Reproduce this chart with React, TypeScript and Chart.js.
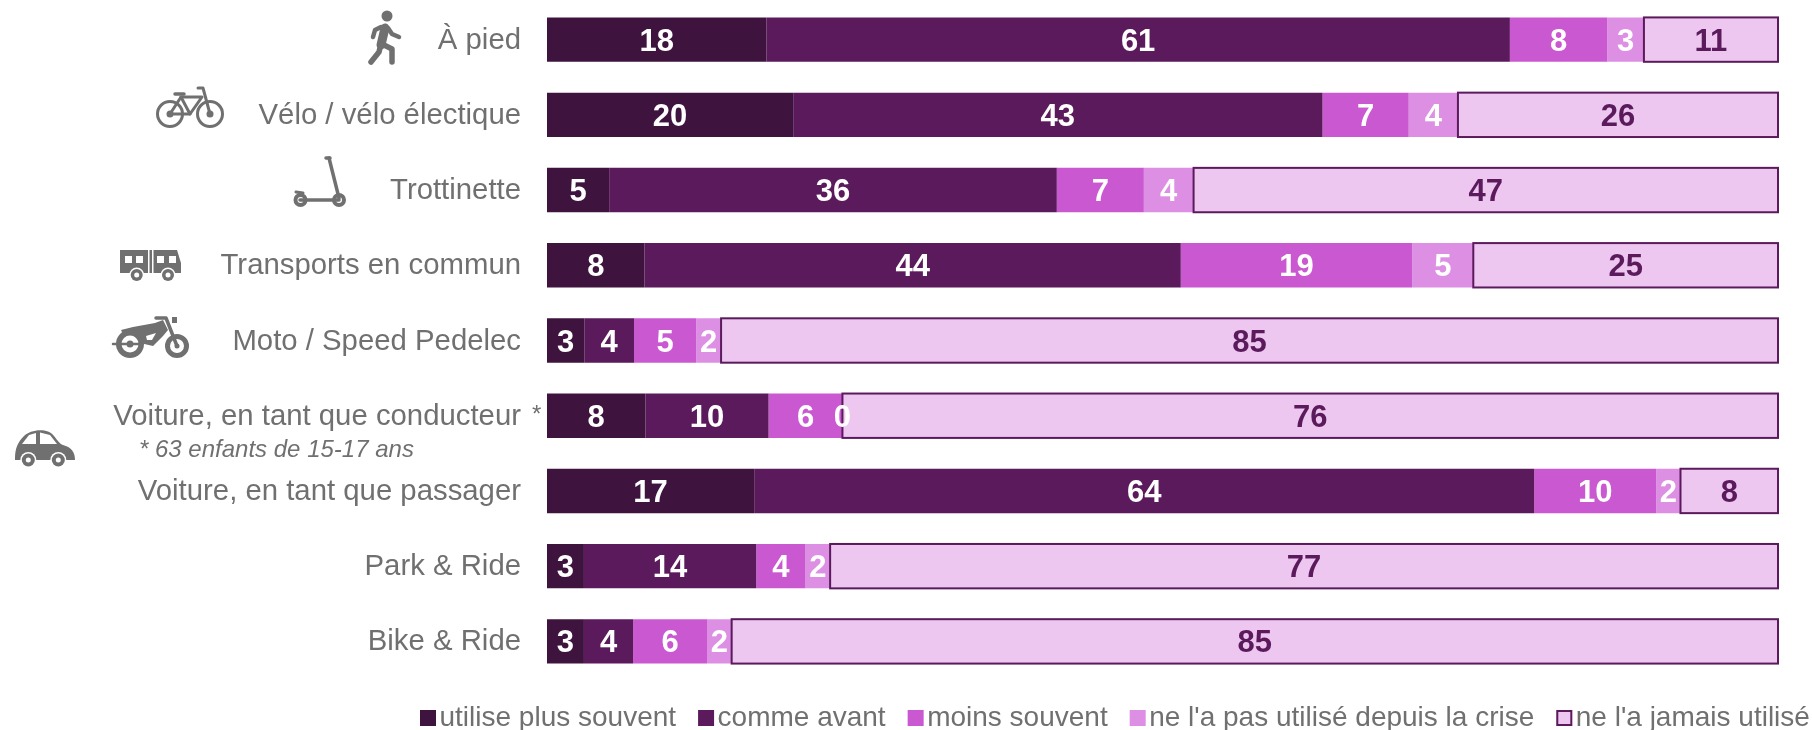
import React, { useEffect, useRef } from "react";
import { Chart, registerables } from "chart.js";

Chart.register(...registerables);

const categories = [
  "À pied",
  "Vélo / vélo électique",
  "Trottinette",
  "Transports en commun",
  "Moto / Speed Pedelec",
  "Voiture, en tant que conducteur",
  "Voiture, en tant que passager",
  "Park & Ride",
  "Bike & Ride",
];
const plusSouvent = [18, 20, 5, 8, 3, 8, 17, 3, 3];
const commeAvant = [61, 43, 36, 44, 4, 10, 64, 14, 4];
const moinsSouvent = [8, 7, 7, 19, 5, 6, 10, 4, 6];
const pasUtilise = [3, 4, 4, 5, 2, 0, 2, 2, 2];
const jamaisUtilise = [11, 26, 47, 25, 85, 76, 8, 77, 85];

const seriesNames = [
  "utilise plus souvent",
  "comme avant",
  "moins souvent",
  "ne l'a pas utilisé depuis la crise",
  "ne l'a jamais utilisé",
];
const seriesValues = [plusSouvent, commeAvant, moinsSouvent, pasUtilise, jamaisUtilise];
const seriesColors = ["#3e143f", "#5b1a5c", "#ca58d1", "#dd8fe3", "#edc7f0"];

const GREY = "#707070";
const FAMILY = '"Liberation Sans", Arial, sans-serif';

const totals = categories.map((_, i) => seriesValues.reduce((s, v) => s + v[i], 0));

function line(ctx: CanvasRenderingContext2D, pts: number[][], w: number) {
  ctx.lineWidth = w;
  ctx.beginPath();
  pts.forEach((p, i) => (i ? ctx.lineTo(p[0], p[1]) : ctx.moveTo(p[0], p[1])));
  ctx.stroke();
}
function disc(ctx: CanvasRenderingContext2D, x: number, y: number, r: number, color = GREY) {
  ctx.fillStyle = color;
  ctx.beginPath();
  ctx.arc(x, y, r, 0, Math.PI * 2);
  ctx.fill();
}
function ring(ctx: CanvasRenderingContext2D, x: number, y: number, r: number, w: number) {
  ctx.lineWidth = w;
  ctx.beginPath();
  ctx.arc(x, y, r, 0, Math.PI * 2);
  ctx.stroke();
}
function poly(ctx: CanvasRenderingContext2D, pts: number[][], color = GREY) {
  ctx.fillStyle = color;
  ctx.beginPath();
  pts.forEach((p, i) => (i ? ctx.lineTo(p[0], p[1]) : ctx.moveTo(p[0], p[1])));
  ctx.closePath();
  ctx.fill();
}

function drawIcons(ctx: CanvasRenderingContext2D) {
  ctx.save();
  ctx.strokeStyle = GREY;
  ctx.fillStyle = GREY;
  ctx.lineCap = "round";
  ctx.lineJoin = "round";

  // walker
  disc(ctx, 387, 16, 5.5);
  line(ctx, [[385, 28], [381, 45]], 9);
  line(ctx, [[381, 27], [375, 30], [373, 37]], 4.5);
  line(ctx, [[388, 28], [392, 34], [399, 37]], 4.5);
  line(ctx, [[381, 44], [379, 52], [371, 62]], 5.5);
  line(ctx, [[382, 44], [392, 49], [392, 62]], 5.5);

  // bicycle
  ring(ctx, 170, 114, 12.5, 3);
  ring(ctx, 210, 114, 12.5, 3);
  disc(ctx, 170, 114, 3.5);
  disc(ctx, 210, 114, 3.5);
  line(ctx, [[170, 114], [181, 97], [202, 97], [190, 114], [170, 114]], 3);
  line(ctx, [[181, 97], [190, 114]], 3);
  line(ctx, [[198, 88], [203, 88], [210, 114]], 3);
  line(ctx, [[175, 94], [184, 94]], 3.5);

  // scooter
  line(ctx, [[329, 158], [339, 198]], 3.5);
  line(ctx, [[326, 158], [330, 158]], 3.5);
  line(ctx, [[300, 200], [339, 200]], 3.5);
  line(ctx, [[296, 192], [303, 193]], 3);
  ring(ctx, 300.5, 200, 5, 4);
  ring(ctx, 339, 200, 5, 4);

  // bus
  ctx.lineJoin = "miter";
  poly(ctx, [[120, 250], [177, 250], [181, 263], [181, 273], [120, 273]]);
  [[125, 256], [136, 256], [157, 256], [169, 256]].forEach(([x, y]) => {
    ctx.fillStyle = "#ffffff";
    ctx.fillRect(x, y, 7, 7);
  });
  ctx.fillStyle = "#ffffff";
  ctx.fillRect(148, 250, 1.5, 23);
  ctx.fillRect(152, 250, 1.5, 23);
  [136.7, 168].forEach((x) => {
    disc(ctx, x, 275, 7.5, "#ffffff");
    disc(ctx, x, 275, 6);
    disc(ctx, x, 275, 2.5, "#ffffff");
  });
  ctx.lineJoin = "round";

  // motorcycle
  poly(ctx, [[121, 330], [133, 327], [155, 323], [163, 320], [168, 330], [163, 336], [153, 346], [140, 343], [125, 338]]);
  poly(ctx, [[146, 336], [156, 333], [152, 340], [147, 340]], "#ffffff");
  line(ctx, [[156, 318], [166, 318], [177, 346]], 3.5);
  ctx.fillStyle = GREY;
  ctx.fillRect(172, 317, 5, 6);
  ctx.strokeStyle = GREY;
  disc(ctx, 130, 344, 14);
  disc(ctx, 130, 344, 8.5, "#ffffff");
  disc(ctx, 130, 344, 3.5);
  line(ctx, [[113, 344], [142, 344]], 2.5);
  ring(ctx, 177, 346, 9.5, 5);
  disc(ctx, 177, 346, 2.5);

  // car
  ctx.fillStyle = GREY;
  ctx.beginPath();
  ctx.moveTo(15, 458);
  ctx.bezierCurveTo(15, 448, 18, 442, 24, 436);
  ctx.bezierCurveTo(30, 430, 47, 427, 54, 436);
  ctx.bezierCurveTo(58, 441, 60, 444, 63, 445);
  ctx.bezierCurveTo(71, 447, 75, 452, 75, 460);
  ctx.lineTo(15, 460);
  ctx.closePath();
  ctx.fill();
  poly(ctx, [[22, 444], [36, 444], [36, 433], [29, 435]], "#ffffff");
  poly(ctx, [[40, 444], [57, 444], [50, 435], [40, 432.5]], "#ffffff");
  [28.3, 58.3].forEach((x) => {
    disc(ctx, x, 460, 8, "#ffffff");
    disc(ctx, x, 460, 6.5);
    disc(ctx, x, 460, 2.5, "#ffffff");
  });
  ctx.restore();
}

const annotations = {
  id: "annotations",
  afterDatasetsDraw(chart: any) {
    const ctx: CanvasRenderingContext2D = chart.ctx;
    ctx.save();
    // outline of the last series, centred on the bar's edge
    ctx.strokeStyle = "#5b1a5c";
    ctx.lineWidth = 2;
    chart.getDatasetMeta(4).data.forEach((bar: any) => {
      ctx.strokeRect(bar.base, bar.y - bar.height / 2, bar.x - bar.base, bar.height);
    });
    // value labels
    ctx.textAlign = "center";
    ctx.textBaseline = "middle";
    ctx.font = `bold 31px ${FAMILY}`;
    chart.data.datasets.forEach((ds: any, d: number) => {
      chart.getDatasetMeta(d).data.forEach((bar: any, i: number) => {
        ctx.fillStyle = d === 4 ? "#5b1a5c" : "#ffffff";
        ctx.fillText(String(ds.raw[i]), (bar.x + bar.base) / 2, bar.y + 2.5);
      });
    });
    ctx.restore();
  },
  afterDraw(chart: any) {
    const ctx: CanvasRenderingContext2D = chart.ctx;
    ctx.save();
    const y = chart.scales.y;
    // asterisk and note on the driver row
    const rowY = y.getPixelForValue(5);
    ctx.fillStyle = GREY;
    ctx.textAlign = "left";
    ctx.textBaseline = "middle";
    ctx.font = `24px ${FAMILY}`;
    ctx.fillText("*", 532, rowY);
    ctx.font = `italic 24px ${FAMILY}`;
    ctx.fillText("* 63 enfants de 15-17 ans", 139, rowY + 35);

    drawIcons(ctx);

    // legend
    ctx.font = `28px ${FAMILY}`;
    ctx.textBaseline = "middle";
    let x = 420;
    const ly = 718;
    seriesNames.forEach((name, i) => {
      ctx.fillStyle = seriesColors[i];
      ctx.fillRect(x, ly - 8, 16, 16);
      if (i === 4) {
        ctx.strokeStyle = "#5b1a5c";
        ctx.lineWidth = 2;
        ctx.strokeRect(x + 1, ly - 7, 14, 14);
      }
      ctx.fillStyle = GREY;
      ctx.fillText(name, x + 19.5, ly);
      x += 19.5 + ctx.measureText(name).width + 22;
    });
    ctx.restore();
  },
};

export default function App() {
  const ref = useRef<HTMLCanvasElement>(null);
  useEffect(() => {
    const chart = new Chart(ref.current!, {
      type: "bar",
      plugins: [annotations],
      data: {
        labels: categories,
        datasets: seriesNames.map((label, s) => ({
          label,
          raw: seriesValues[s],
          data: seriesValues[s].map((v, i) => (v / totals[i]) * 100),
          backgroundColor: seriesColors[s],
          borderWidth: 0,
          barPercentage: 0.59,
          categoryPercentage: 1,
        })) as any,
      },
      options: {
        indexAxis: "y",
        responsive: false,
        animation: false,
        layout: { padding: { top: 2, bottom: 51, right: 34, left: 0 } },
        plugins: { legend: { display: false }, tooltip: { enabled: false } },
        scales: {
          x: { stacked: true, min: 0, max: 100, display: false },
          y: {
            stacked: true,
            grid: { display: false, drawTicks: false },
            border: { display: false },
            ticks: {
              padding: 26,
              color: GREY,
              labelOffset: 1,
              font: { family: FAMILY, size: 29.33 },
              autoSkip: false,
            },
            afterFit(scale: any) {
              scale.width = 547;
              scale.paddingTop = 0;
              scale.paddingBottom = 0;
            },
          },
        },
      },
    });
    return () => chart.destroy();
  }, []);
  return (
    <div style={{ position: "absolute", left: 0, top: 0, width: 1812, height: 730, background: "#fff" }}>
      <canvas ref={ref} width={1812} height={730} style={{ display: "block" }} />
    </div>
  );
}
